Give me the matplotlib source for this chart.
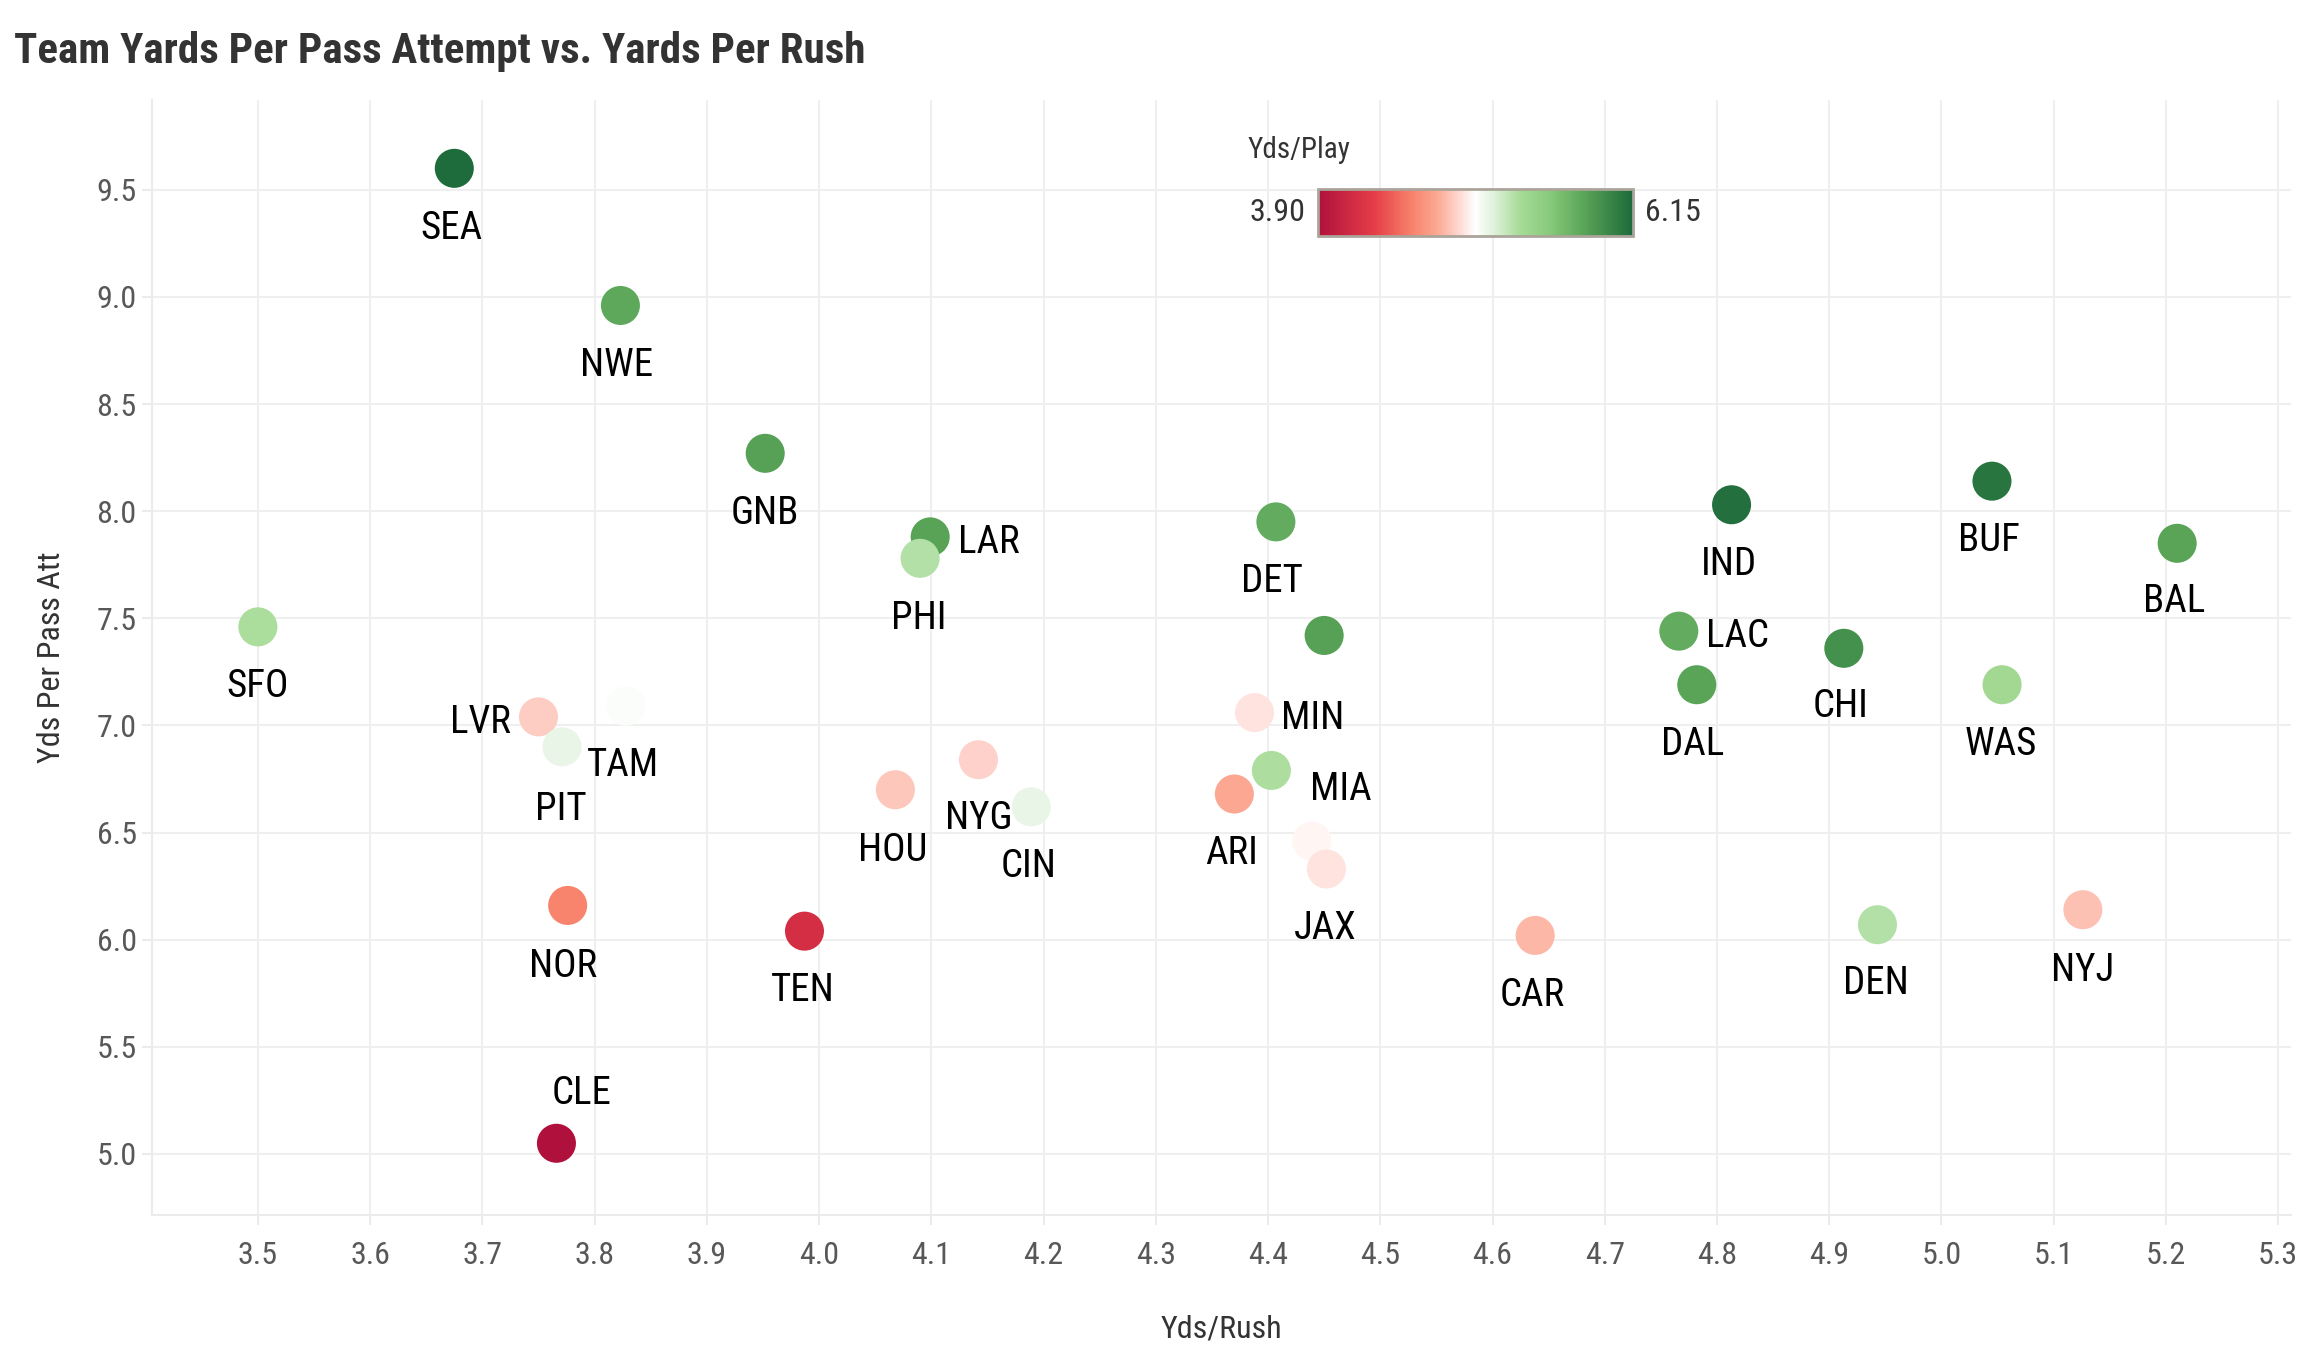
import matplotlib.pyplot as plt
from matplotlib.colors import LinearSegmentedColormap, Normalize
from matplotlib.cm import ScalarMappable

plt.rcParams['font.family'] = ['Roboto Condensed', 'DejaVu Sans Condensed',
                               'Liberation Sans Narrow', 'Liberation Sans', 'DejaVu Sans']

# Team data
teams = ['SEA', 'NWE', 'GNB', 'LAR', 'PHI', 'DET', 'IND', 'BUF', 'BAL', 'SFO',
         'LAC', 'KAN', 'CHI', 'DAL', 'WAS', 'LVR', 'TAM', 'PIT', 'MIN', 'MIA',
         'HOU', 'NYG', 'CIN', 'ARI', 'ATL', 'JAX', 'NOR', 'TEN', 'CAR', 'DEN',
         'NYJ', 'CLE']
yds_rush = [3.675, 3.823, 3.952, 4.099, 4.090, 4.407, 4.813, 5.045, 5.210, 3.500,
            4.766, 4.450, 4.913, 4.782, 5.054, 3.750, 3.828, 3.771, 4.388, 4.403,
            4.068, 4.142, 4.189, 4.370, 4.439, 4.452, 3.776, 3.987, 4.638, 4.943,
            5.126, 3.766]
yds_pass_att = [9.60, 8.96, 8.27, 7.88, 7.78, 7.95, 8.03, 8.14, 7.85, 7.46,
                7.44, 7.42, 7.36, 7.19, 7.19, 7.04, 7.09, 6.90, 7.06, 6.79,
                6.70, 6.84, 6.62, 6.68, 6.46, 6.33, 6.16, 6.04, 6.02, 6.07,
                6.14, 5.05]
yds_play = [6.15, 5.78, 5.82, 5.81, 5.30, 5.75, 6.12, 6.08, 5.80, 5.33,
            5.75, 5.82, 5.93, 5.80, 5.38, 4.87, 5.05, 5.12, 4.94, 5.32,
            4.85, 4.89, 5.12, 4.75, 4.99, 4.94, 4.58, 4.17, 4.80, 5.30,
            4.84, 3.90]

x_ticks = [3.5, 3.6, 3.7, 3.8, 3.9, 4.0, 4.1, 4.2, 4.3, 4.4, 4.5, 4.6, 4.7,
           4.8, 4.9, 5.0, 5.1, 5.2, 5.3]
y_ticks = [5.0, 5.5, 6.0, 6.5, 7.0, 7.5, 8.0, 8.5, 9.0, 9.5]

# label offsets in points (ggrepel-like placement); None = label dropped
label_offsets = {
    'SEA': (-2, -43), 'NWE': (-3, -43), 'GNB': (0, -43), 'LAR': (42, -4),
    'PHI': (-1, -43), 'DET': (-3, -43), 'IND': (-2, -43), 'BUF': (-2, -43),
    'BAL': (-2, -42), 'SFO': (0, -43), 'LAC': (42, -4), 'KAN': None,
    'CHI': (-2, -42), 'DAL': (-3, -43), 'WAS': (-1, -43), 'LVR': (-42, -4),
    'TAM': (-2, -43), 'PIT': (-1, -45), 'MIN': (42, -4), 'MIA': (50, -14),
    'HOU': (-2, -44), 'NYG': (0, -42), 'CIN': (-2, -43), 'ARI': (-2, -43),
    'ATL': None, 'JAX': (-1, -43), 'NOR': (-3, -44), 'TEN': (-1, -43),
    'CAR': (-2, -43), 'DEN': (-1, -42), 'NYJ': (0, -44), 'CLE': (18, 36),
}

cmap = LinearSegmentedColormap.from_list('rwg', [
    (0.0, '#b0103c'), (0.18, '#e53e48'), (0.3, '#f8836c'), (0.38, '#fca993'),
    (0.45, '#fed9d4'), (0.5, '#ffffff'), (0.56, '#dff1da'), (0.64, '#a8dc98'),
    (0.74, '#86c97a'), (0.85, '#58a356'), (1.0, '#1e6b3b')])
norm = Normalize(vmin=min(yds_play), vmax=max(yds_play))

fig = plt.figure(figsize=(23.16, 13.64), dpi=100)
ax = fig.add_axes([0.0656, 0.1092, 0.9234, 0.8175])

ax.scatter(yds_rush, yds_pass_att, c=yds_play, cmap=cmap, norm=norm,
           s=790, linewidths=0, zorder=3)

for t, x, y in zip(teams, yds_rush, yds_pass_att):
    off = label_offsets[t]
    if off is None:
        continue
    ax.annotate(t, (x, y), xytext=off, textcoords='offset points',
                ha='center', va='center', fontsize=28, color='black', zorder=4)

ax.set_xlim(3.4056, 5.311)
ax.set_ylim(4.715, 9.919)
ax.set_xticks(x_ticks)
ax.set_xticklabels([f'{v:.1f}' for v in x_ticks])
ax.set_yticks(y_ticks)
ax.set_yticklabels([f'{v:.1f}' for v in y_ticks])
ax.grid(True, color='#efefef', linewidth=1.5, zorder=0)
ax.set_axisbelow(True)
for side in ['top', 'right']:
    ax.spines[side].set_visible(False)
for side in ['left', 'bottom']:
    ax.spines[side].set_color('#ebebeb')
    ax.spines[side].set_linewidth(1.5)
ax.tick_params(axis='both', colors='#ebebeb', length=7, width=1.5,
               labelcolor='#585858', labelsize=23)
ax.tick_params(axis='x', pad=12)
ax.tick_params(axis='y', pad=4)

ax.set_xlabel('Yds/Rush', fontsize=23, color='#333333', labelpad=32)
ax.set_ylabel('Yds Per Pass Att', fontsize=23, color='#333333', labelpad=22)
fig.text(0.006, 1 - 63 / 1364, 'Team Yards Per Pass Attempt vs. Yards Per Rush',
         ha='left', va='baseline', fontsize=31, fontweight='bold', color='#333333')

# colour legend inside the panel
cax = fig.add_axes([0.569, 0.827, 0.136, 0.0345])
cb = fig.colorbar(ScalarMappable(norm=norm, cmap=cmap), cax=cax,
                  orientation='horizontal')
cb.set_ticks([])
cb.outline.set_edgecolor('#aaa49a')
cb.outline.set_linewidth(2)
cax.text(-0.04, 0.5, f'{min(yds_play):.2f}', transform=cax.transAxes,
         ha='right', va='center', fontsize=23, color='#333333')
cax.text(1.04, 0.5, f'{max(yds_play):.2f}', transform=cax.transAxes,
         ha='left', va='center', fontsize=23, color='#333333')
cax.text(-0.222, 1.83, 'Yds/Play', transform=cax.transAxes,
         ha='left', va='center', fontsize=21, color='#333333')

fig.savefig('out.png', dpi=100, facecolor='white')
